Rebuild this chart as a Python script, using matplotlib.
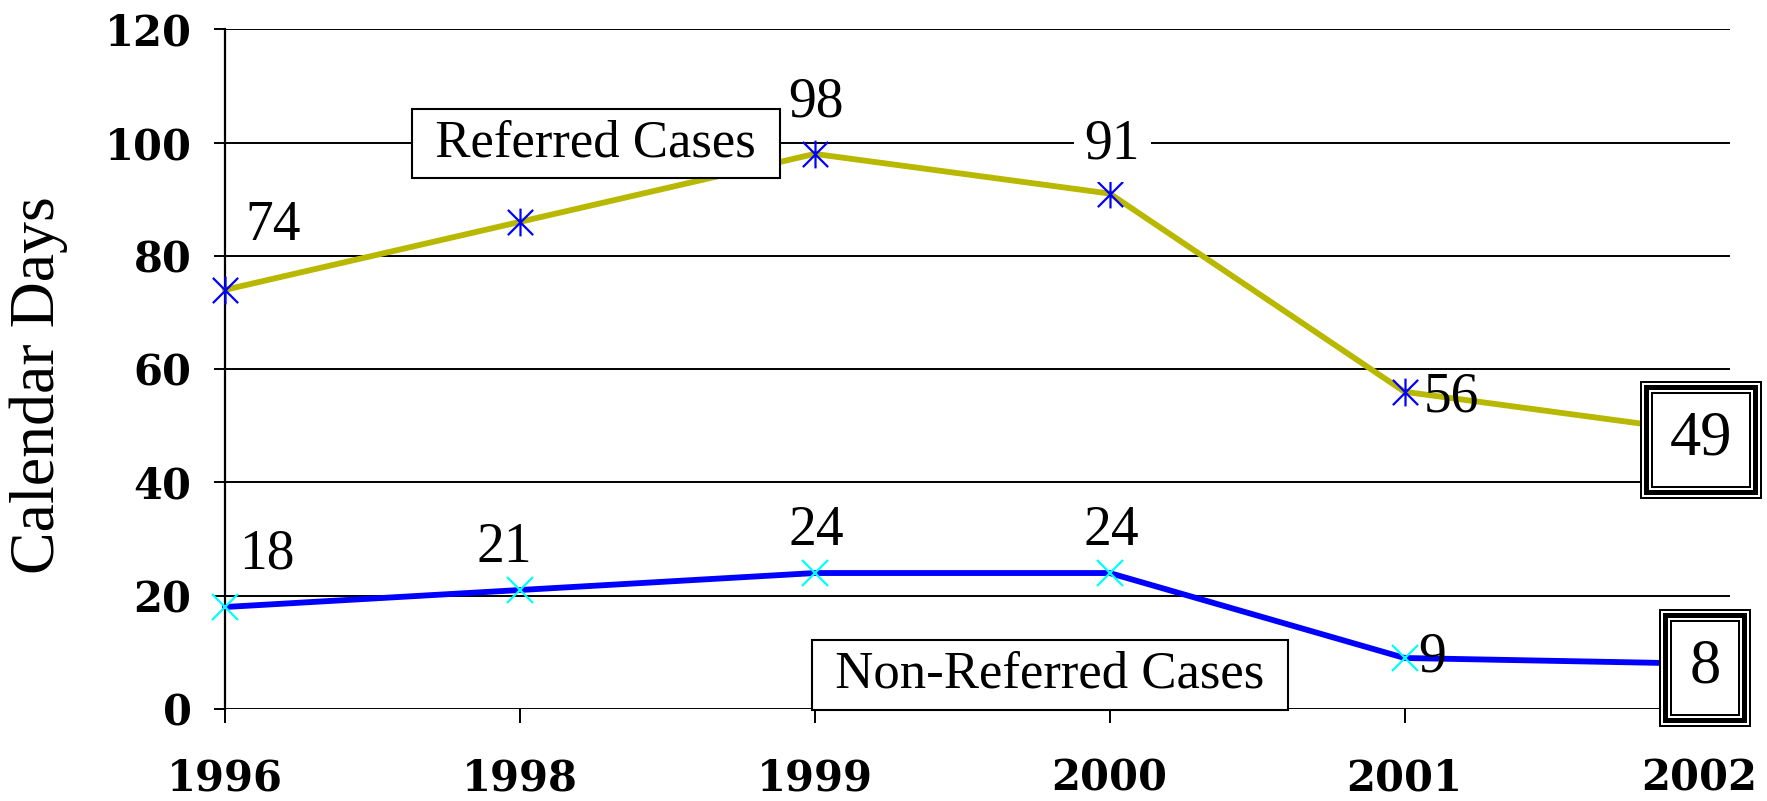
import matplotlib
matplotlib.use("Agg")
import matplotlib.pyplot as plt
from matplotlib.path import Path

# data
years = ["1996", "1998", "1999", "2000", "2001", "2002"]
referred = [74, 86, 98, 91, 56, 49]
non_referred = [18, 21, 24, 24, 9, 8]
y_ticks = [0, 20, 40, 60, 80, 100, 120]

OLIVE = "#b8b800"
BLUE = "#0000ff"
CYAN = "#00ffff"
SERIF = "Liberation Serif"

# Excel-style star marker: X with a vertical bar
star = Path([(-1, -1), (1, 1), (-1, 1), (1, -1), (0, -1.1), (0, 1.1)],
            [Path.MOVETO, Path.LINETO, Path.MOVETO, Path.LINETO, Path.MOVETO, Path.LINETO])

fig = plt.figure(figsize=(17.67, 8.01), dpi=100)
ax = fig.add_axes([0.1273, 0.1149, 0.979 - 0.1273, 0.9634 - 0.1149])

x = list(range(len(years)))
ax.plot(x, referred, color=OLIVE, lw=4.2, zorder=3, clip_on=False)
ax.plot(x, referred, ls="none", marker=star, ms=20, mew=1.6, mec=BLUE, zorder=4, clip_on=False)
ax.plot(x, non_referred, color=BLUE, lw=4.2, zorder=3, clip_on=False)
ax.plot(x, non_referred, ls="none", marker="x", ms=19, mew=1.6, mec=CYAN, zorder=4, clip_on=False)

ax.set_xlim(0, 5.103)
ax.set_ylim(0, 120)
ax.set_yticks(y_ticks)
ax.set_xticks(x)
ax.set_xticklabels(years)
ax.yaxis.grid(True, color="black", lw=1.4)
ax.set_axisbelow(True)
for s in ["top", "right", "bottom"]:
    ax.spines[s].set_visible(False)
ax.spines["left"].set_linewidth(1.6)
ax.tick_params(axis="y", length=8, width=1.4, pad=16, direction="out")
ax.tick_params(axis="x", length=10, width=1.4, pad=25, direction="out")
for lab in ax.get_xticklabels() + ax.get_yticklabels():
    lab.set_fontfamily("DejaVu Serif")
    lab.set_fontweight("bold")
    lab.set_fontsize(30)
ax.set_ylabel("Calendar Days", fontfamily=SERIF, fontsize=46)
ax.yaxis.set_label_coords(-0.104, 0.476)

# value labels (1998 referred value has no label in the original)
lab_kw = dict(textcoords="offset points", ha="center", va="center",
              fontfamily=SERIF, fontsize=40, zorder=6)
ax.annotate(str(referred[0]), (0, referred[0]), xytext=(35, 46), **lab_kw)
ax.annotate(str(referred[2]), (2, referred[2]), xytext=(1, 37), **lab_kw)
ax.annotate(str(referred[3]), (3, referred[3]), xytext=(2, 35),
            bbox=dict(boxstyle="square,pad=0.2", fc="white", ec="none"), **lab_kw)
ax.annotate(str(referred[4]), (4, referred[4]), xytext=(34, -4), **lab_kw)
ax.annotate(str(non_referred[0]), (0, non_referred[0]), xytext=(30, 38), **lab_kw)
ax.annotate(str(non_referred[1]), (1, non_referred[1]), xytext=(-11, 30), **lab_kw)
ax.annotate(str(non_referred[2]), (2, non_referred[2]), xytext=(1, 30), **lab_kw)
ax.annotate(str(non_referred[3]), (3, non_referred[3]), xytext=(1, 30), **lab_kw)
ax.annotate(str(non_referred[4]), (4, non_referred[4]), xytext=(20, 0), **lab_kw)


def framed_label(xi, yi, txt, dx, dy):
    # triple-line frame built from stacked square boxes (outer -> inner)
    fs = 45
    px = fs * 100 / 72.0
    base = 30.0
    layers = [(0, "black"), (2, "white"), (4, "black"), (9, "white"), (11, "black"), (13, "white")]
    for i, (inset, fc) in enumerate(layers):
        last = i == len(layers) - 1
        ax.annotate(txt, (xi, yi), xytext=(dx, dy), textcoords="offset points",
                    ha="center", va="center", fontfamily=SERIF, fontsize=fs,
                    color="black" if last else "none", zorder=7 + i * 0.01,
                    annotation_clip=False,
                    bbox=dict(boxstyle="square,pad=%.3f" % ((base - inset) / px),
                              fc=fc, ec="none"))


framed_label(5, referred[5], str(referred[5]), 1, -6)
framed_label(5, non_referred[5], str(non_referred[5]), 4, -3)

# series name boxes
name_kw = dict(ha="center", va="center", fontfamily=SERIF, fontsize=38, zorder=6,
               bbox=dict(boxstyle="square,pad=0.2", fc="white", ec="black", lw=1.5))
ax.text(1.258, 99.9, " Referred Cases ", **name_kw)
ax.text(2.798, 6.0, " Non-Referred Cases ", **name_kw)

fig.savefig("out.png", dpi=100)
